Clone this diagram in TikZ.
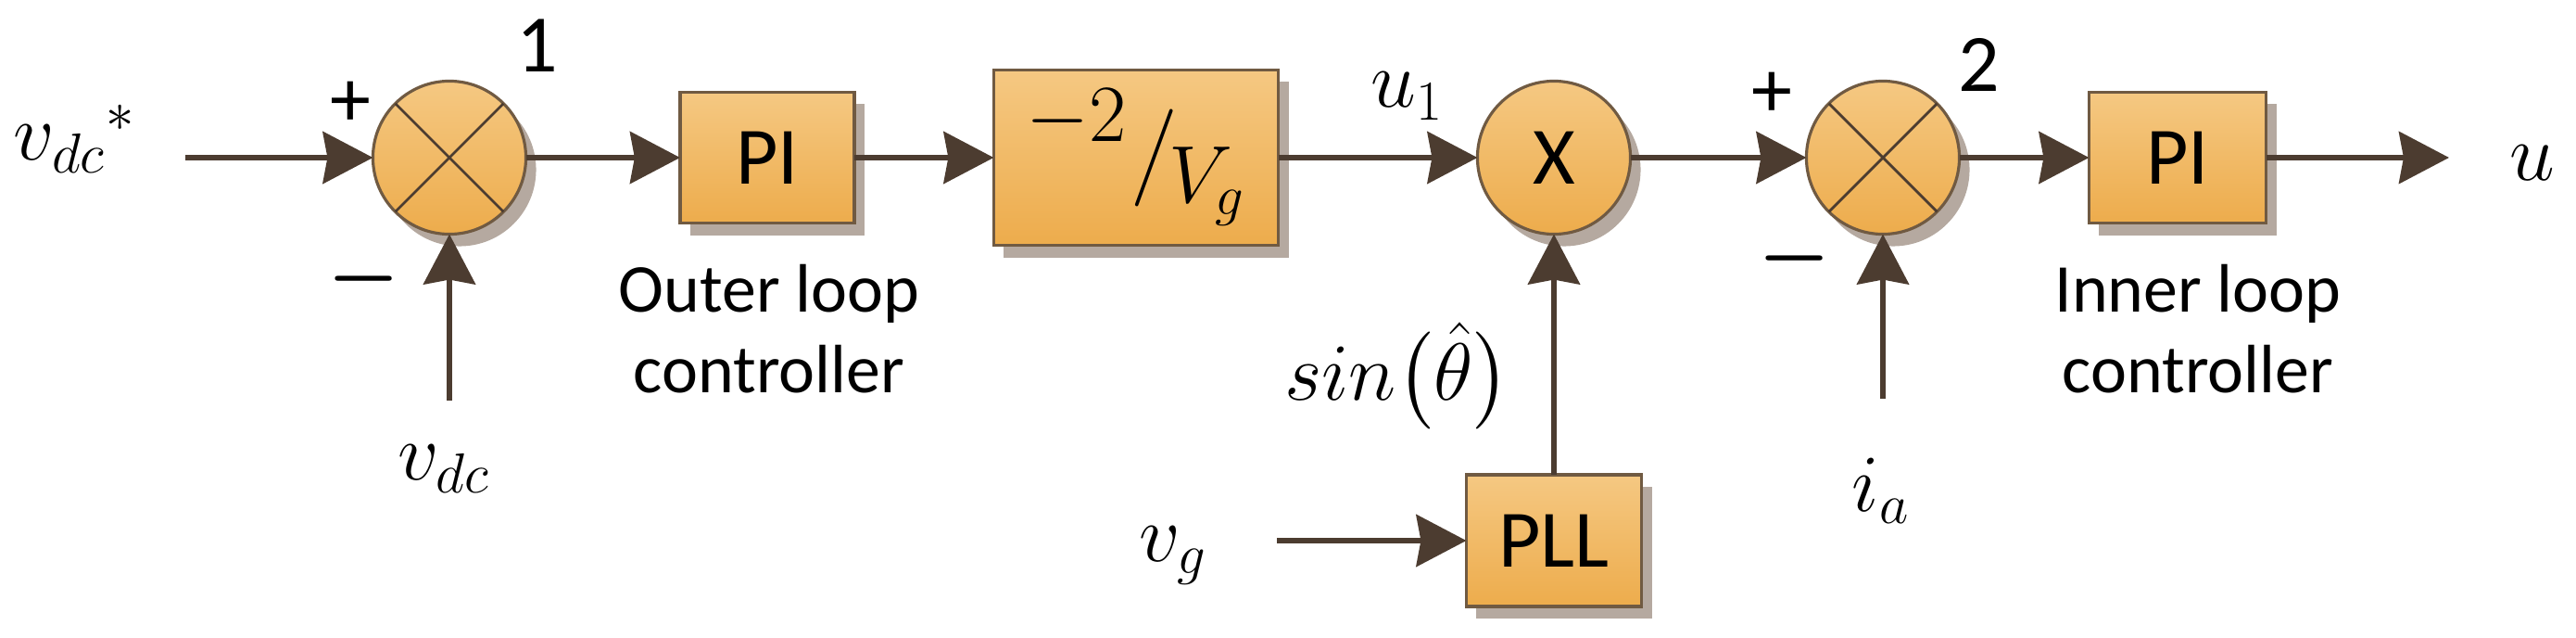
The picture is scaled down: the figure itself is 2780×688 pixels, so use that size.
\documentclass[tikz,border=0pt]{standalone}
\usepackage{amsmath}
\usepackage{fontspec}
\setsansfont{Carlito}
\usetikzlibrary{arrows.meta,shadows}
\definecolor{boxtop}{RGB}{245,200,130}
\definecolor{boxbot}{RGB}{237,172,76}
\definecolor{boxedge}{RGB}{112,90,66}
\definecolor{wire}{RGB}{76,60,48}
\definecolor{shadowc}{RGB}{181,169,160}
\tikzset{
  blockbase/.style={draw=boxedge, line width=0.9pt, top color=boxtop, bottom color=boxbot,
    outer sep=0pt, inner sep=0pt,
    general shadow={fill=shadowc, draw=none, shadow xshift=0.11cm, shadow yshift=-0.13cm},
    font=\sffamily\fontsize{25}{30}\selectfont},
  blockbox/.style={blockbase, rectangle},
  junction/.style={blockbase, circle, minimum size=1.65cm},
  crossline/.style={draw=wire, line width=0.8pt},
  wirearrow/.style={draw=wire, line width=1.6pt, -{Stealth[length=0.54cm, width=0.56cm, inset=0.05cm]}},
  mathlabel/.style={inner sep=0pt, font=\fontsize{25}{30}\selectfont},
  signlabel/.style={inner sep=0pt, font=\sffamily\fontsize{25}{30}\selectfont},
  caption/.style={inner sep=0pt, align=center, font=\sffamily\fontsize{21}{24.7}\selectfont},
}
\begin{document}
\begin{tikzpicture}[x=0.01cm, y=-0.01cm]
\useasboundingbox (0,0) rectangle (2780,688);

% blocks
\node[junction] (s1) at (485,170) {};
\node[blockbox, minimum width=1.88cm, minimum height=1.41cm] (pi1) at (828,170) {PI};
\node[blockbox, minimum width=3.07cm, minimum height=1.89cm] (gain) at (1226,170)
  {$\raisebox{0.45em}{$-2$}\mkern1mu\big/\mkern-2mu\raisebox{-0.3em}{$V_g$}$};
\node[junction] (mul) at (1677,170) {X};
\node[blockbox, minimum width=1.89cm, minimum height=1.42cm] (pll) at (1677,583) {PLL};
\node[junction] (s2) at (2032,170) {};
\node[blockbox, minimum width=1.91cm, minimum height=1.41cm] (pi2) at (2350,170) {PI};

% crosses in summing junctions
\draw[crossline] (s1.north west) -- (s1.south east);
\draw[crossline] (s1.north east) -- (s1.south west);
\draw[crossline] (s2.north west) -- (s2.south east);
\draw[crossline] (s2.north east) -- (s2.south west);

% free ends
\coordinate (in1) at (200,170);
\coordinate (fb1) at (485,432);
\coordinate (vgin) at (1378,583);
\coordinate (fb2) at (2032,430);
\coordinate (out) at (2643,170);

% connectors
\draw[wirearrow] (in1) -- (s1);
\draw[wirearrow] (fb1) -- (s1);
\draw[wirearrow] (s1) -- (pi1);
\draw[wirearrow] (pi1) -- (gain);
\draw[wirearrow] (gain) -- (mul);
\draw[wirearrow] (vgin) -- (pll);
\draw[wirearrow] (pll) -- (mul);
\draw[wirearrow] (mul) -- (s2);
\draw[wirearrow] (fb2) -- (s2);
\draw[wirearrow] (s2) -- (pi2);
\draw[wirearrow] (pi2) -- (out);

% labels
\node[mathlabel, anchor=base west] (lvdcs) at (14,173) {$v_{dc}{}^{*}$};
\node[mathlabel, anchor=base] (lvdc) at (479,518) {$v_{dc}$};
\node[mathlabel, anchor=base west] (lu1) at (1479,116) {$u_1$};
\node[mathlabel, anchor=base] (lsin) at (1508,432) {$sin\bigl(\hat{\theta}\bigr)$};
\node[mathlabel, anchor=base] (lvg) at (1266,605) {$v_g$};
\node[mathlabel, anchor=base] (lia) at (2030,551) {$i_a$};
\node[mathlabel, anchor=base] (lu) at (2733,195) {$u$};

\node[signlabel] (p1) at (378,112) {+};
\node[mathlabel] (m1) at (393,301) {$\boldsymbol{-}$};
\node[signlabel] (n1) at (580,49) {1};
\node[signlabel] (p2) at (1912,102) {+};
\node[mathlabel] (m2) at (1937,279) {$\boldsymbol{-}$};
\node[signlabel] (n2) at (2136,70) {2};

\node[caption, anchor=north] (outer) at (830,285) {Outer loop\\controller};
\node[caption, anchor=north] (inner) at (2372,285) {Inner loop\\controller};
\end{tikzpicture}
\end{document}
